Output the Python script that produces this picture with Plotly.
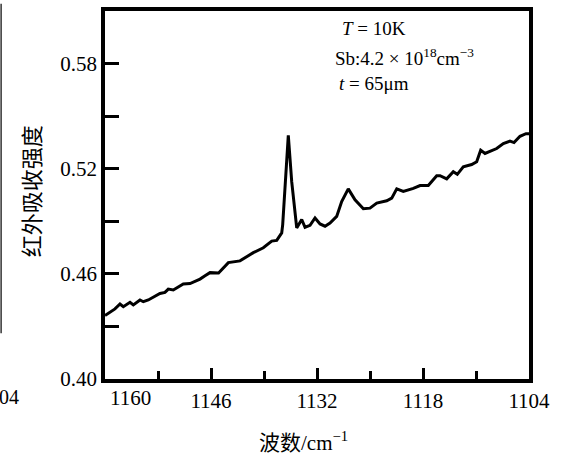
import plotly.graph_objects as go

wavenumber = [1160.0, 1158.68, 1158.02, 1157.58, 1156.70, 1156.26, 1155.38, 1154.94, 1154.28, 1153.62,
              1152.74, 1152.08, 1151.64, 1150.98, 1150.32, 1149.66, 1148.77, 1147.89, 1147.45, 1146.79,
              1146.13, 1145.00, 1143.71, 1142.17, 1140.41, 1139.09, 1137.98, 1137.32, 1136.66, 1136.53,
              1135.79, 1135.34, 1134.68, 1134.02, 1133.58, 1132.92, 1132.26, 1131.60, 1130.94, 1130.28,
              1129.40, 1128.74, 1127.87, 1126.98, 1125.88, 1125.00, 1124.11, 1122.79, 1122.13, 1121.47,
              1120.60, 1119.28, 1118.39, 1117.30, 1116.19, 1115.75, 1114.87, 1114.00, 1113.47, 1112.68,
              1111.57, 1110.91, 1110.38, 1109.81, 1109.15, 1108.27, 1107.39, 1106.51, 1105.98, 1105.19,
              1104.40, 1104.0]
absorbance = [0.4362, 0.4400, 0.4428, 0.4413, 0.4438, 0.4423, 0.4451, 0.4441, 0.4451, 0.4466,
              0.4488, 0.4494, 0.4513, 0.4508, 0.4526, 0.4542, 0.4545, 0.4560, 0.4570, 0.4589,
              0.4607, 0.4605, 0.4664, 0.4674, 0.4721, 0.4749, 0.4787, 0.4791, 0.4834, 0.4881,
              0.5391, 0.5126, 0.4862, 0.4910, 0.4866, 0.4877, 0.4919, 0.4885, 0.4872, 0.4890,
              0.4928, 0.5013, 0.5085, 0.5023, 0.4972, 0.4975, 0.5004, 0.5017, 0.5032, 0.5085,
              0.5070, 0.5088, 0.5104, 0.5104, 0.5160, 0.5160, 0.5142, 0.5183, 0.5168, 0.5211,
              0.5224, 0.5240, 0.5306, 0.5287, 0.5300, 0.5315, 0.5343, 0.5357, 0.5349, 0.5385,
              0.5400, 0.5400]

x_ticks = [1160, 1146, 1132, 1118, 1104]
x_ticktext = ["", "1146", "1132", "1118", "1104"]
y_ticks = [0.40, 0.46, 0.52, 0.58]
y_ticktext = ["0.40", "0.46", "0.52", "0.58"]

SERIF = "Liberation Serif, Times New Roman, serif"
CJK = "Noto Sans CJK SC"

fig = go.Figure()
fig.add_trace(go.Scatter(x=wavenumber, y=absorbance, mode="lines",
                         line=dict(color="black", width=3), showlegend=False))

fig.update_layout(
    width=561, height=458,
    margin=dict(l=105, r=32, t=7, b=79),
    paper_bgcolor="white", plot_bgcolor="white",
    font=dict(family=SERIF, color="black", size=21),
)
fig.update_xaxes(
    range=[1160, 1104], showgrid=False, zeroline=False,
    showline=True, linecolor="black", linewidth=3.5, mirror=True,
    tickvals=x_ticks, ticktext=x_ticktext, ticks="inside", ticklen=11, tickwidth=3,
    tickcolor="black", ticklabelstandoff=0,
    tickfont=dict(family=SERIF, size=21),
    minor=dict(tickvals=[1153, 1139, 1125, 1111], ticks="inside", ticklen=8, tickwidth=3, tickcolor="black"),
)
fig.update_yaxes(
    range=[0.40, 0.61], showgrid=False, zeroline=False,
    showline=True, linecolor="black", linewidth=3.5, mirror=True,
    tickvals=y_ticks, ticktext=y_ticktext, ticks="inside", ticklen=14, tickwidth=3,
    tickcolor="black", ticklabelstandoff=0,
    tickfont=dict(family=SERIF, size=21),
    minor=dict(tickvals=[0.43, 0.49, 0.55], ticks="inside", ticklen=14, tickwidth=3, tickcolor="black"),
)

# Shifted first x tick label (as in the reference)
fig.add_annotation(x=1160, y=0, xref="x", yref="paper", text="1160", showarrow=False,
                   xanchor="center", yanchor="top", xshift=25, yshift=-5,
                   font=dict(family=SERIF, size=21))

# Axis titles
fig.add_annotation(x=-0.177, y=0.51, xref="paper", yref="paper", text="红外吸收强度",
                   textangle=-90, showarrow=False, xanchor="center", yanchor="middle",
                   font=dict(family=CJK, size=22))
fig.add_annotation(x=0.467, y=-0.169, xref="paper", yref="paper",
                   text="波数/cm<sup>−1</sup>", showarrow=False, xanchor="center", yanchor="middle",
                   font=dict(family=SERIF + ", " + CJK, size=21))

# Condition labels
fig.add_annotation(x=(340 - 105) / 424, y=0.952, xref="paper", yref="paper", text="<i>T</i> = 10K",
                   showarrow=False, xanchor="left", yanchor="middle", font=dict(family=SERIF, size=19))
fig.add_annotation(x=(333 - 105) / 424, y=0.876, xref="paper", yref="paper",
                   text="Sb:4.2 × 10<sup>18</sup>cm<sup>−3</sup>",
                   showarrow=False, xanchor="left", yanchor="middle", font=dict(family=SERIF, size=19))
fig.add_annotation(x=(337 - 105) / 424, y=0.804, xref="paper", yref="paper", text="<i>t</i> = 65μm",
                   showarrow=False, xanchor="left", yanchor="middle", font=dict(family=SERIF, size=19))

# Edge fragment from the neighbouring figure in the scan
fig.add_annotation(x=(21 - 105) / 424, y=0, xref="paper", yref="paper", text="04", showarrow=False,
                   xanchor="right", yanchor="top", yshift=-5, font=dict(family=SERIF, size=20))
fig.add_shape(type="line", xref="paper", yref="paper", x0=-0.245, x1=-0.245, y0=1.02, y1=0.124,
              line=dict(color="#333333", width=1.5))

fig.write_html("out.html")
